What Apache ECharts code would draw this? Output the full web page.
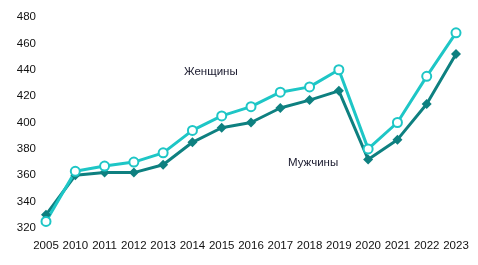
<!DOCTYPE html>
<html><head><meta charset="utf-8">
<script src="https://cdn.jsdelivr.net/npm/echarts@6/dist/echarts.min.js"></script>
<style>html,body{margin:0;padding:0;background:#fff}#c{width:478px;height:265px}</style>
</head><body><div id="c"></div>
<script>
var categories = ['2005','2010','2011','2012','2013','2014','2015','2016','2017','2018','2019','2020','2021','2022','2023'];
var women = [325,363,367,370,377,394,405,412,423,427,440,380,400,435,468];
var men = [330,360,362,362,368,385,396,400,411,417,424,372,387,414,452];
var womenName = 'Женщины';
var menName = 'Мужчины';
var yMin = 320, yMax = 480, yStep = 20;

var chart = echarts.init(document.getElementById('c'), null, {renderer:'canvas'});
chart.setOption({
  animation:false,
  grid:{left:46,right:22,top:17,bottom:37},
  xAxis:{type:'category',data:categories,boundaryGap:false,
    axisLine:{show:false},axisTick:{show:false},splitLine:{show:false},
    axisLabel:{color:'#111',fontFamily:'Liberation Sans, Arial',fontSize:11.5,margin:12,interval:0}},
  yAxis:{type:'value',min:yMin,max:yMax,interval:yStep,
    axisLine:{show:false},axisTick:{show:false},splitLine:{show:false},
    axisLabel:{color:'#111',fontFamily:'Liberation Sans, Arial',fontSize:11.5,margin:10}},
  series:[
    {name:menName,type:'line',data:men,symbol:'diamond',symbolSize:10,
      lineStyle:{color:'#0e8080',width:3},itemStyle:{color:'#0e8080'}},
    {name:womenName,type:'line',data:women,symbol:'circle',symbolSize:9,
      lineStyle:{color:'#1ec6c6',width:3},itemStyle:{color:'#ffffff',borderColor:'#1ec6c6',borderWidth:2}}
  ],
  graphic:[
    {type:'text',left:184,top:66,style:{text:womenName,fill:'#1a1a2e',font:'11.5px "Liberation Sans", Arial'}},
    {type:'text',left:288,top:157,style:{text:menName,fill:'#1a1a2e',font:'11.5px "Liberation Sans", Arial'}}
  ]
});
</script></body></html>
